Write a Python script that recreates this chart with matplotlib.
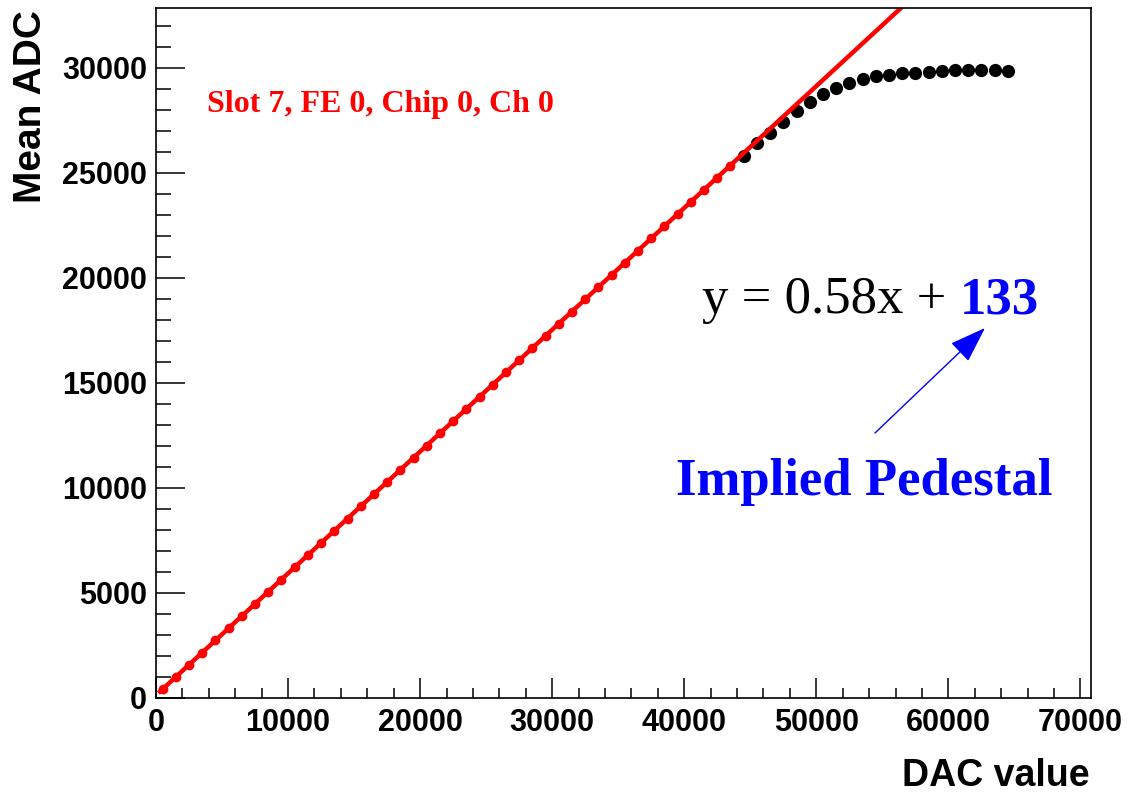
import matplotlib
matplotlib.use("Agg")
import matplotlib.pyplot as plt
from matplotlib.ticker import MultipleLocator

# DAC scan points used in the linear fit (drawn red)
fit_dac = [500, 1500, 2500, 3500, 4500, 5500, 6500, 7500, 8500, 9500,
           10500, 11500, 12500, 13500, 14500, 15500, 16500, 17500, 18500, 19500,
           20500, 21500, 22500, 23500, 24500, 25500, 26500, 27500, 28500, 29500,
           30500, 31500, 32500, 33500, 34500, 35500, 36500, 37500, 38500, 39500,
           40500, 41500, 42500, 43500]
fit_adc = [420, 1000, 1580, 2160, 2740, 3320, 3900, 4480, 5060, 5640,
           6220, 6800, 7380, 7960, 8540, 9120, 9700, 10280, 10860, 11440,
           12020, 12600, 13180, 13760, 14340, 14920, 15500, 16080, 16660, 17240,
           17820, 18400, 18980, 19560, 20140, 20720, 21300, 21880, 22460, 23040,
           23620, 24200, 24780, 25350]

# points past the fit range, where the ADC saturates
sat_dac = [44500, 45500, 46500, 47500, 48500, 49500, 50500, 51500, 52500, 53500,
           54500, 55500, 56500, 57500, 58500, 59500, 60500, 61500, 62500, 63500,
           64500]
sat_adc = [25800, 26400, 26900, 27420, 27950, 28380, 28750, 29050, 29300, 29480,
           29600, 29680, 29750, 29770, 29820, 29860, 29880, 29900, 29890, 29900,
           29870]

fit_slope = 0.58
fit_intercept = 133
fit_range = [300, 70800]

sans = "Liberation Sans"
serif = "Liberation Serif"

fig = plt.figure(figsize=(11.38, 7.92), dpi=100)
ax = fig.add_axes([0.1371, 0.1187, 0.8216, 0.8712])

ax.plot(sat_dac, sat_adc, "o", color="black", markersize=9.5, markeredgewidth=0)
ax.plot(fit_dac, fit_adc, "o", color="red", markersize=7, markeredgewidth=0)
fit_y = [fit_slope * x + fit_intercept for x in fit_range]
ax.plot(fit_range, fit_y, "-", color="red", linewidth=3.2)

ax.set_xlim(0, 70800)
ax.set_ylim(0, 32850)
ax.xaxis.set_major_locator(MultipleLocator(10000))
ax.xaxis.set_minor_locator(MultipleLocator(2000))
ax.yaxis.set_major_locator(MultipleLocator(5000))
ax.yaxis.set_minor_locator(MultipleLocator(1000))
ax.tick_params(axis="both", which="both", direction="in", width=1.1, colors="black")
ax.tick_params(axis="x", which="major", length=14.5, pad=7)
ax.tick_params(axis="x", which="minor", length=7.2)
ax.tick_params(axis="y", which="major", length=21, pad=6.5)
ax.tick_params(axis="y", which="minor", length=10.8)
for lab in ax.get_xticklabels() + ax.get_yticklabels():
    lab.set_fontfamily(sans)
    lab.set_fontweight("bold")
    lab.set_fontsize(22)
for sp in ax.spines.values():
    sp.set_linewidth(1.2)

fig.text(31 / 1138, 1 - 10 / 792, "Mean ADC", rotation=90, ha="center", va="top",
         fontsize=28, fontweight="bold", family=sans)
fig.text(1090 / 1138, 1 - 786 / 792, "DAC value", ha="right", va="baseline",
         fontsize=27, fontweight="bold", family=sans)

fig.text(207 / 1138, 1 - 112 / 792, "Slot 7, FE 0, Chip 0, Ch 0", ha="left",
         va="baseline", fontsize=23, fontweight="bold", color="red", family=serif)

# fit result, pedestal value highlighted
eq = fig.text(702 / 1138, 1 - 313 / 792, "y = %.2fx + " % fit_slope, ha="left",
              va="baseline", fontsize=38, color="black", family=serif)
renderer = fig.canvas.get_renderer()
bb = eq.get_window_extent(renderer=renderer)
fig.text(bb.x1 / 1138, 1 - 313 / 792, "%d" % fit_intercept, ha="left",
         va="baseline", fontsize=38, fontweight="bold", color="blue", family=serif)

fig.text(676 / 1138, 1 - 495 / 792, "Implied Pedestal", ha="left", va="baseline",
         fontsize=38, fontweight="bold", color="blue", family=serif)

ax.annotate("", xy=(985, 792 - 328), xytext=(875, 792 - 433),
            xycoords="figure pixels", textcoords="figure pixels",
            arrowprops=dict(arrowstyle="-|>,head_length=1.15,head_width=0.4",
                            mutation_scale=20, color="blue", lw=1,
                            shrinkA=0, shrinkB=0))

fig.savefig("out.png", dpi=100)
plt.close(fig)
